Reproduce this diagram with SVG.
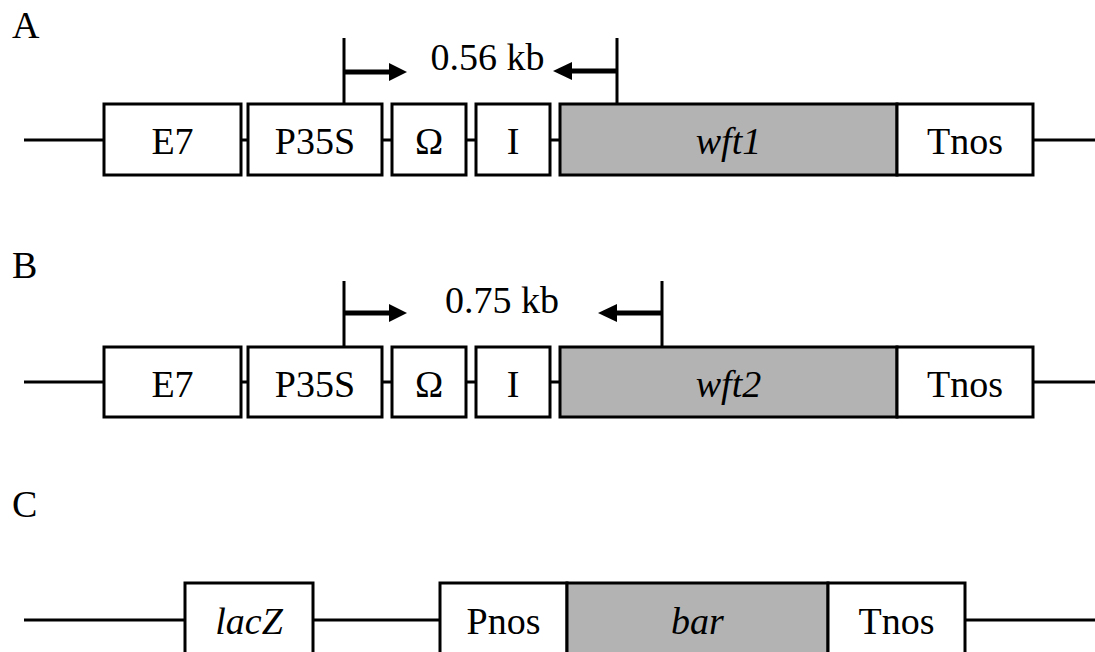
<svg xmlns="http://www.w3.org/2000/svg" width="1095" height="652" viewBox="0 0 1095 652">
<style>
.bx{fill:#fff;stroke:#000;stroke-width:3}
.gr{fill:#b3b3b3;stroke:#000;stroke-width:3}
.ln{stroke:#000;stroke-width:3;fill:none}
.sh{stroke:#000;stroke-width:5;fill:none}
.hd{fill:#000}
text{font-family:"Liberation Serif","Times New Roman",serif;font-size:38px;fill:#000}
.c{text-anchor:middle}
.i{font-style:italic}
</style>
<rect width="1095" height="652" fill="#fff"/>
<text x="12" y="38">A</text>
<text x="12" y="278">B</text>
<text x="12" y="517">C</text>
<g id="connectors">
<path class="ln" d="M24 140H104M241 140H248M382 140H392M466 140H476M550 140H560M1033 140H1095"/>
<path class="ln" d="M24 382H104M241 382H248M382 382H392M466 382H476M550 382H560M1033 382H1095"/>
<path class="ln" d="M24 620H185M313 620H440M965 620H1095"/>
<path class="ln" d="M344 38V104M617 38V104M344 281V347M662 281V347"/>
<path class="sh" d="M344 72H392M617 71H571M344 313H392M662 313H616"/>
<polygon class="hd" points="407,72 389,63 389,81"/>
<polygon class="hd" points="553,71 572,62 572,80"/>
<polygon class="hd" points="407,313 389,304 389,322"/>
<polygon class="hd" points="598,313 617,304 617,322"/>
</g>
<g id="label-a"><text class="c" x="487.5" y="70">0.56 kb</text></g>
<g id="label-b"><text class="c" x="502" y="313">0.75 kb</text></g>
<g id="a-e7"><rect class="bx" x="104" y="104" width="137" height="71"/><text class="c" x="172.5" y="154">E7</text></g>
<g id="a-p35s"><rect class="bx" x="248" y="104" width="134" height="71"/><text class="c" x="315" y="154">P35S</text></g>
<g id="a-omega"><rect class="bx" x="392" y="104" width="74" height="71"/><text class="c" x="429" y="154">Ω</text></g>
<g id="a-i"><rect class="bx" x="476" y="104" width="74" height="71"/><text class="c" x="513" y="154">I</text></g>
<g id="a-wft1"><rect class="gr" x="560" y="104" width="337" height="71"/><text class="c i" x="728.5" y="154">wft1</text></g>
<g id="a-tnos"><rect class="bx" x="897" y="104" width="136" height="71"/><text class="c" x="965" y="154">Tnos</text></g>
<g id="b-e7"><rect class="bx" x="104" y="347" width="137" height="70"/><text class="c" x="172.5" y="397">E7</text></g>
<g id="b-p35s"><rect class="bx" x="248" y="347" width="134" height="70"/><text class="c" x="315" y="397">P35S</text></g>
<g id="b-omega"><rect class="bx" x="392" y="347" width="74" height="70"/><text class="c" x="429" y="397">Ω</text></g>
<g id="b-i"><rect class="bx" x="476" y="347" width="74" height="70"/><text class="c" x="513" y="397">I</text></g>
<g id="b-wft2"><rect class="gr" x="560" y="347" width="337" height="70"/><text class="c i" x="728.5" y="397">wft2</text></g>
<g id="b-tnos"><rect class="bx" x="897" y="347" width="136" height="70"/><text class="c" x="965" y="397">Tnos</text></g>
<g id="c-lacz"><rect class="bx" x="185" y="583" width="128" height="72"/><text class="c i" x="249" y="634">lacZ</text></g>
<g id="c-pnos"><rect class="bx" x="440" y="583" width="127" height="72"/><text class="c" x="503.5" y="634">Pnos</text></g>
<g id="c-bar"><rect class="gr" x="567" y="583" width="261" height="72"/><text class="c i" x="697.5" y="634">bar</text></g>
<g id="c-tnos"><rect class="bx" x="828" y="583" width="137" height="72"/><text class="c" x="896.5" y="634">Tnos</text></g>
</svg>
